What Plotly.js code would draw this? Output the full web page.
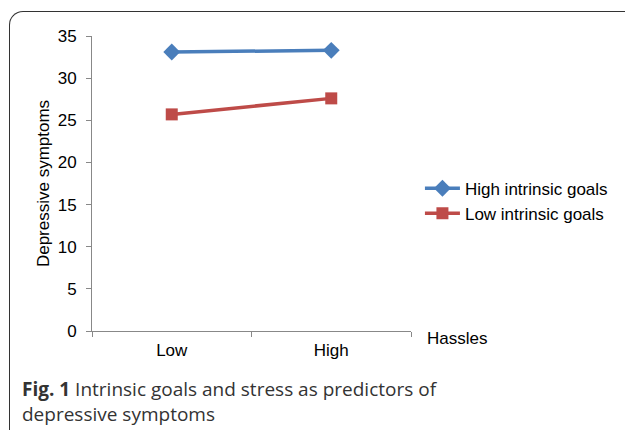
<!DOCTYPE html>
<html>
<head>
<meta charset="utf-8">
<script src="https://cdn.plot.ly/plotly-3.0.1.min.js"></script>
<style>
html, body { margin: 0; padding: 0; background: #fff; }
#frame { position: absolute; left: 9px; top: 11px; width: 700px; height: 430px;
  border-left: 1.5px solid #333; border-top: 1.5px solid #333; border-top-left-radius: 14px; }
#chart { position: absolute; left: 0; top: 0; width: 625px; height: 430px; }
</style>
</head>
<body>
<div id="frame"></div>
<div id="chart"></div>
<script>
const categories = ["Low", "High"];
const highIntrinsic = [33.1, 33.3];
const lowIntrinsic = [25.7, 27.6];
const seriesNames = ["High intrinsic goals", "Low intrinsic goals"];
const yTicks = [0, 5, 10, 15, 20, 25, 30, 35];

const traces = [
  { x: categories, y: highIntrinsic, name: seriesNames[0], type: "scatter", mode: "lines+markers",
    line: { color: "#4a7ebb", width: 3.5 }, marker: { symbol: "diamond", size: 13, color: "#4a7ebb" } },
  { x: categories, y: lowIntrinsic, name: seriesNames[1], type: "scatter", mode: "lines+markers",
    line: { color: "#be4b48", width: 3.5 }, marker: { symbol: "square", size: 12, color: "#be4b48" } }
];

const layout = {
  width: 625, height: 430,
  margin: { l: 92, r: 212, t: 36, b: 99 },
  paper_bgcolor: "rgba(0,0,0,0)", plot_bgcolor: "rgba(0,0,0,0)",
  font: { family: "Liberation Sans, Arial, sans-serif", color: "#000", size: 17 },
  xaxis: { type: "category", range: [-0.5, 1.5], tickson: "boundaries", ticks: "outside", ticklen: 5,
    tickcolor: "#888", showline: true, linecolor: "#888", linewidth: 1, showgrid: false, zeroline: false,
    tickfont: { size: 17 }, ticklabelstandoff: 4, fixedrange: true },
  yaxis: { range: [0, 35], tickvals: yTicks, ticks: "outside", ticklen: 5, tickcolor: "#888",
    showline: true, linecolor: "#888", linewidth: 1, showgrid: false, zeroline: false,
    tickfont: { size: 17 }, ticklabelstandoff: 6,
    title: { text: "Depressive symptoms", font: { size: 17 }, standoff: 3 } },
  legend: { x: 1.028, y: 0.44, xanchor: "left", yanchor: "middle", font: { size: 17 },
    tracegroupgap: 0, itemwidth: 35, bgcolor: "rgba(0,0,0,0)" },
  annotations: [
    { text: "Hassles", xref: "paper", yref: "paper", x: 1.043, y: -0.024, xanchor: "left", yanchor: "middle",
      showarrow: false, font: { size: 17 } },
    { text: "<b>Fig. 1</b> Intrinsic goals and stress as predictors of<br>depressive symptoms",
      xref: "paper", yref: "paper", x: -0.225, y: -0.145, xanchor: "left", yanchor: "top", align: "left",
      showarrow: false, font: { family: "Open Sans, sans-serif", size: 19, color: "#333" } }
  ]
};

Plotly.newPlot("chart", traces, layout, { displayModeBar: false, staticPlot: true });
</script>
</body>
</html>
